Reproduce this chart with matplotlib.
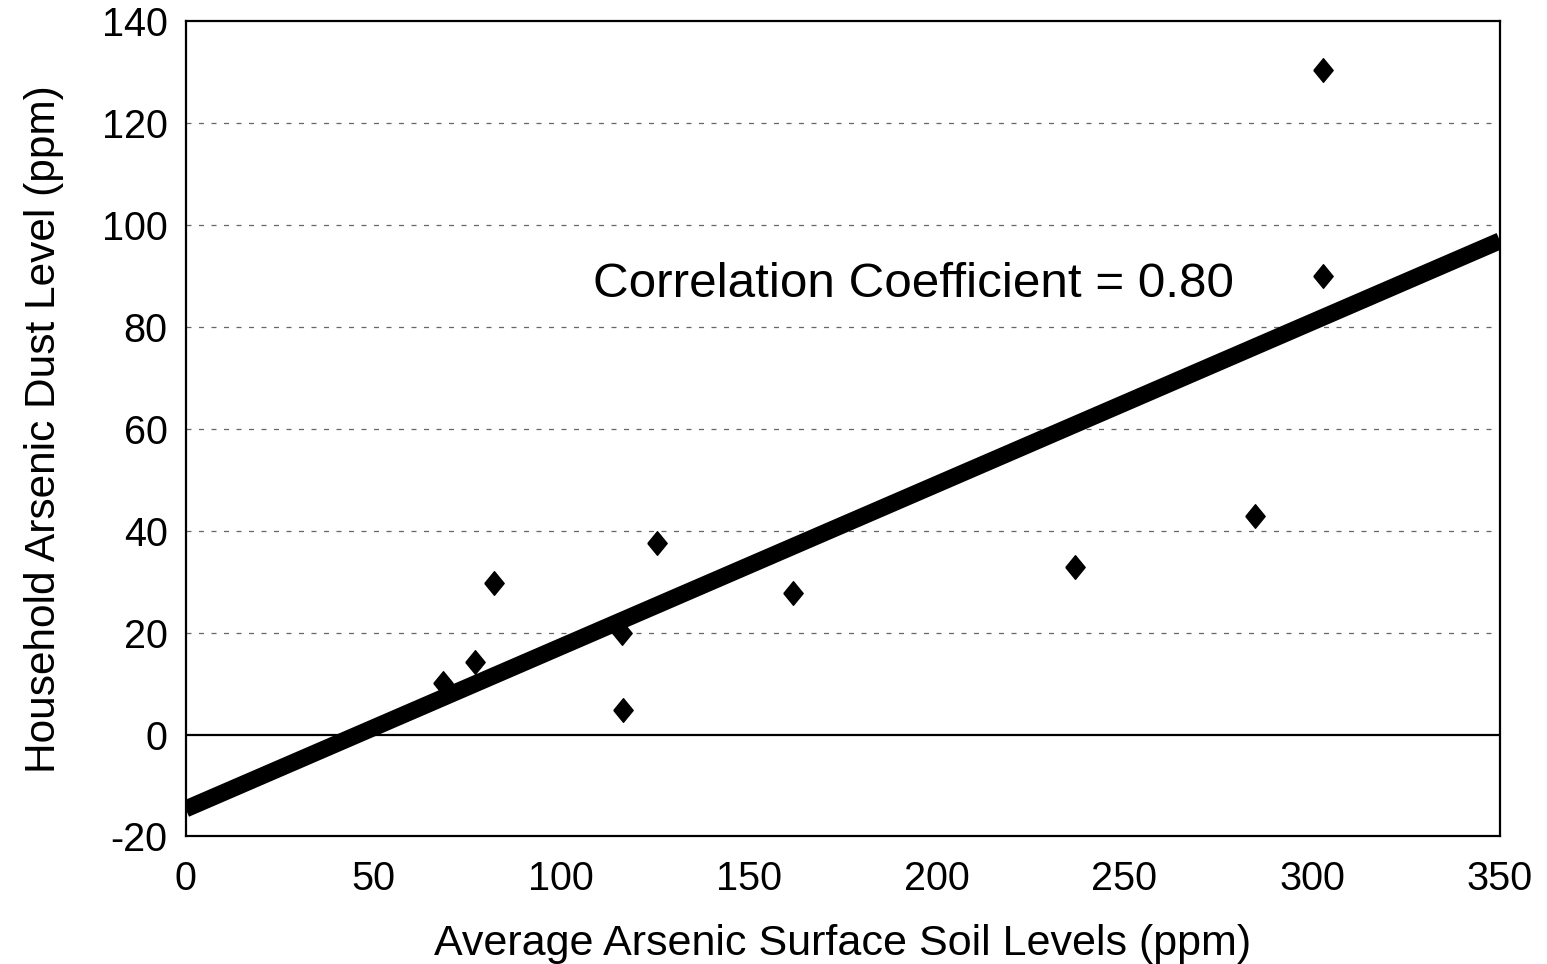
import matplotlib
matplotlib.use("Agg")
import matplotlib.pyplot as plt
import numpy as np

# Data
soil_x = [68.6, 77.1, 82.0, 116.1, 116.4, 125.6, 161.7, 236.8, 284.8, 303.0, 303.0]
dust_y = [10.2, 14.2, 29.7, 20.0, 4.8, 37.5, 27.7, 32.9, 42.8, 130.5, 89.9]

# Regression line endpoints
line_x = [0, 350]
line_y = [-14.6, 96.9]

x_ticks = [0, 50, 100, 150, 200, 250, 300, 350]
y_ticks = [-20, 0, 20, 40, 60, 80, 100, 120, 140]
grid_y = [20, 40, 60, 80, 100, 120]

annotation = "Correlation Coefficient = 0.80"
x_label = "Average Arsenic Surface Soil Levels (ppm)"
y_label = "Household Arsenic Dust Level (ppm)"

plt.rcParams['font.family'] = ['Liberation Sans', 'DejaVu Sans']

fig = plt.figure(figsize=(15.47, 9.64), dpi=100)
ax = fig.add_axes([0.120, 0.1323, 0.8496, 0.8457])

ax.set_xlim(0, 350)
ax.set_ylim(-20, 140)

for gy in grid_y:
    ax.axhline(gy, color='#666666', lw=0.9, ls=(0, (4, 6)), zorder=1)
ax.axhline(0, color='black', lw=1.6, zorder=2)

ax.plot(line_x, line_y, color='black', lw=12.2, solid_capstyle='butt', zorder=3)

diamond = [(-0.41, 0), (0, 0.5), (0.41, 0), (0, -0.5), (-0.41, 0)]
ax.plot(soil_x, dust_y, ls='none', marker=diamond, markersize=17,
        color='black', zorder=4)

ax.text(108.5, 88.3, annotation, fontsize=35.6, ha='left', va='center', zorder=5)

ax.set_xticks(x_ticks)
ax.set_yticks(y_ticks)
ax.set_xticklabels([str(v) for v in x_ticks])
ax.set_yticklabels([str(v) for v in y_ticks])
ax.tick_params(axis='both', length=0, labelsize=28.5)
ax.tick_params(axis='x', pad=17)
ax.tick_params(axis='y', pad=13)

for s in ax.spines.values():
    s.set_linewidth(1.6)
    s.set_color('black')

ax.set_xlabel(x_label, fontsize=31, labelpad=19)
ax.set_ylabel(y_label, fontsize=30.5, labelpad=27)

fig.savefig("out.png", dpi=100, facecolor='white')
